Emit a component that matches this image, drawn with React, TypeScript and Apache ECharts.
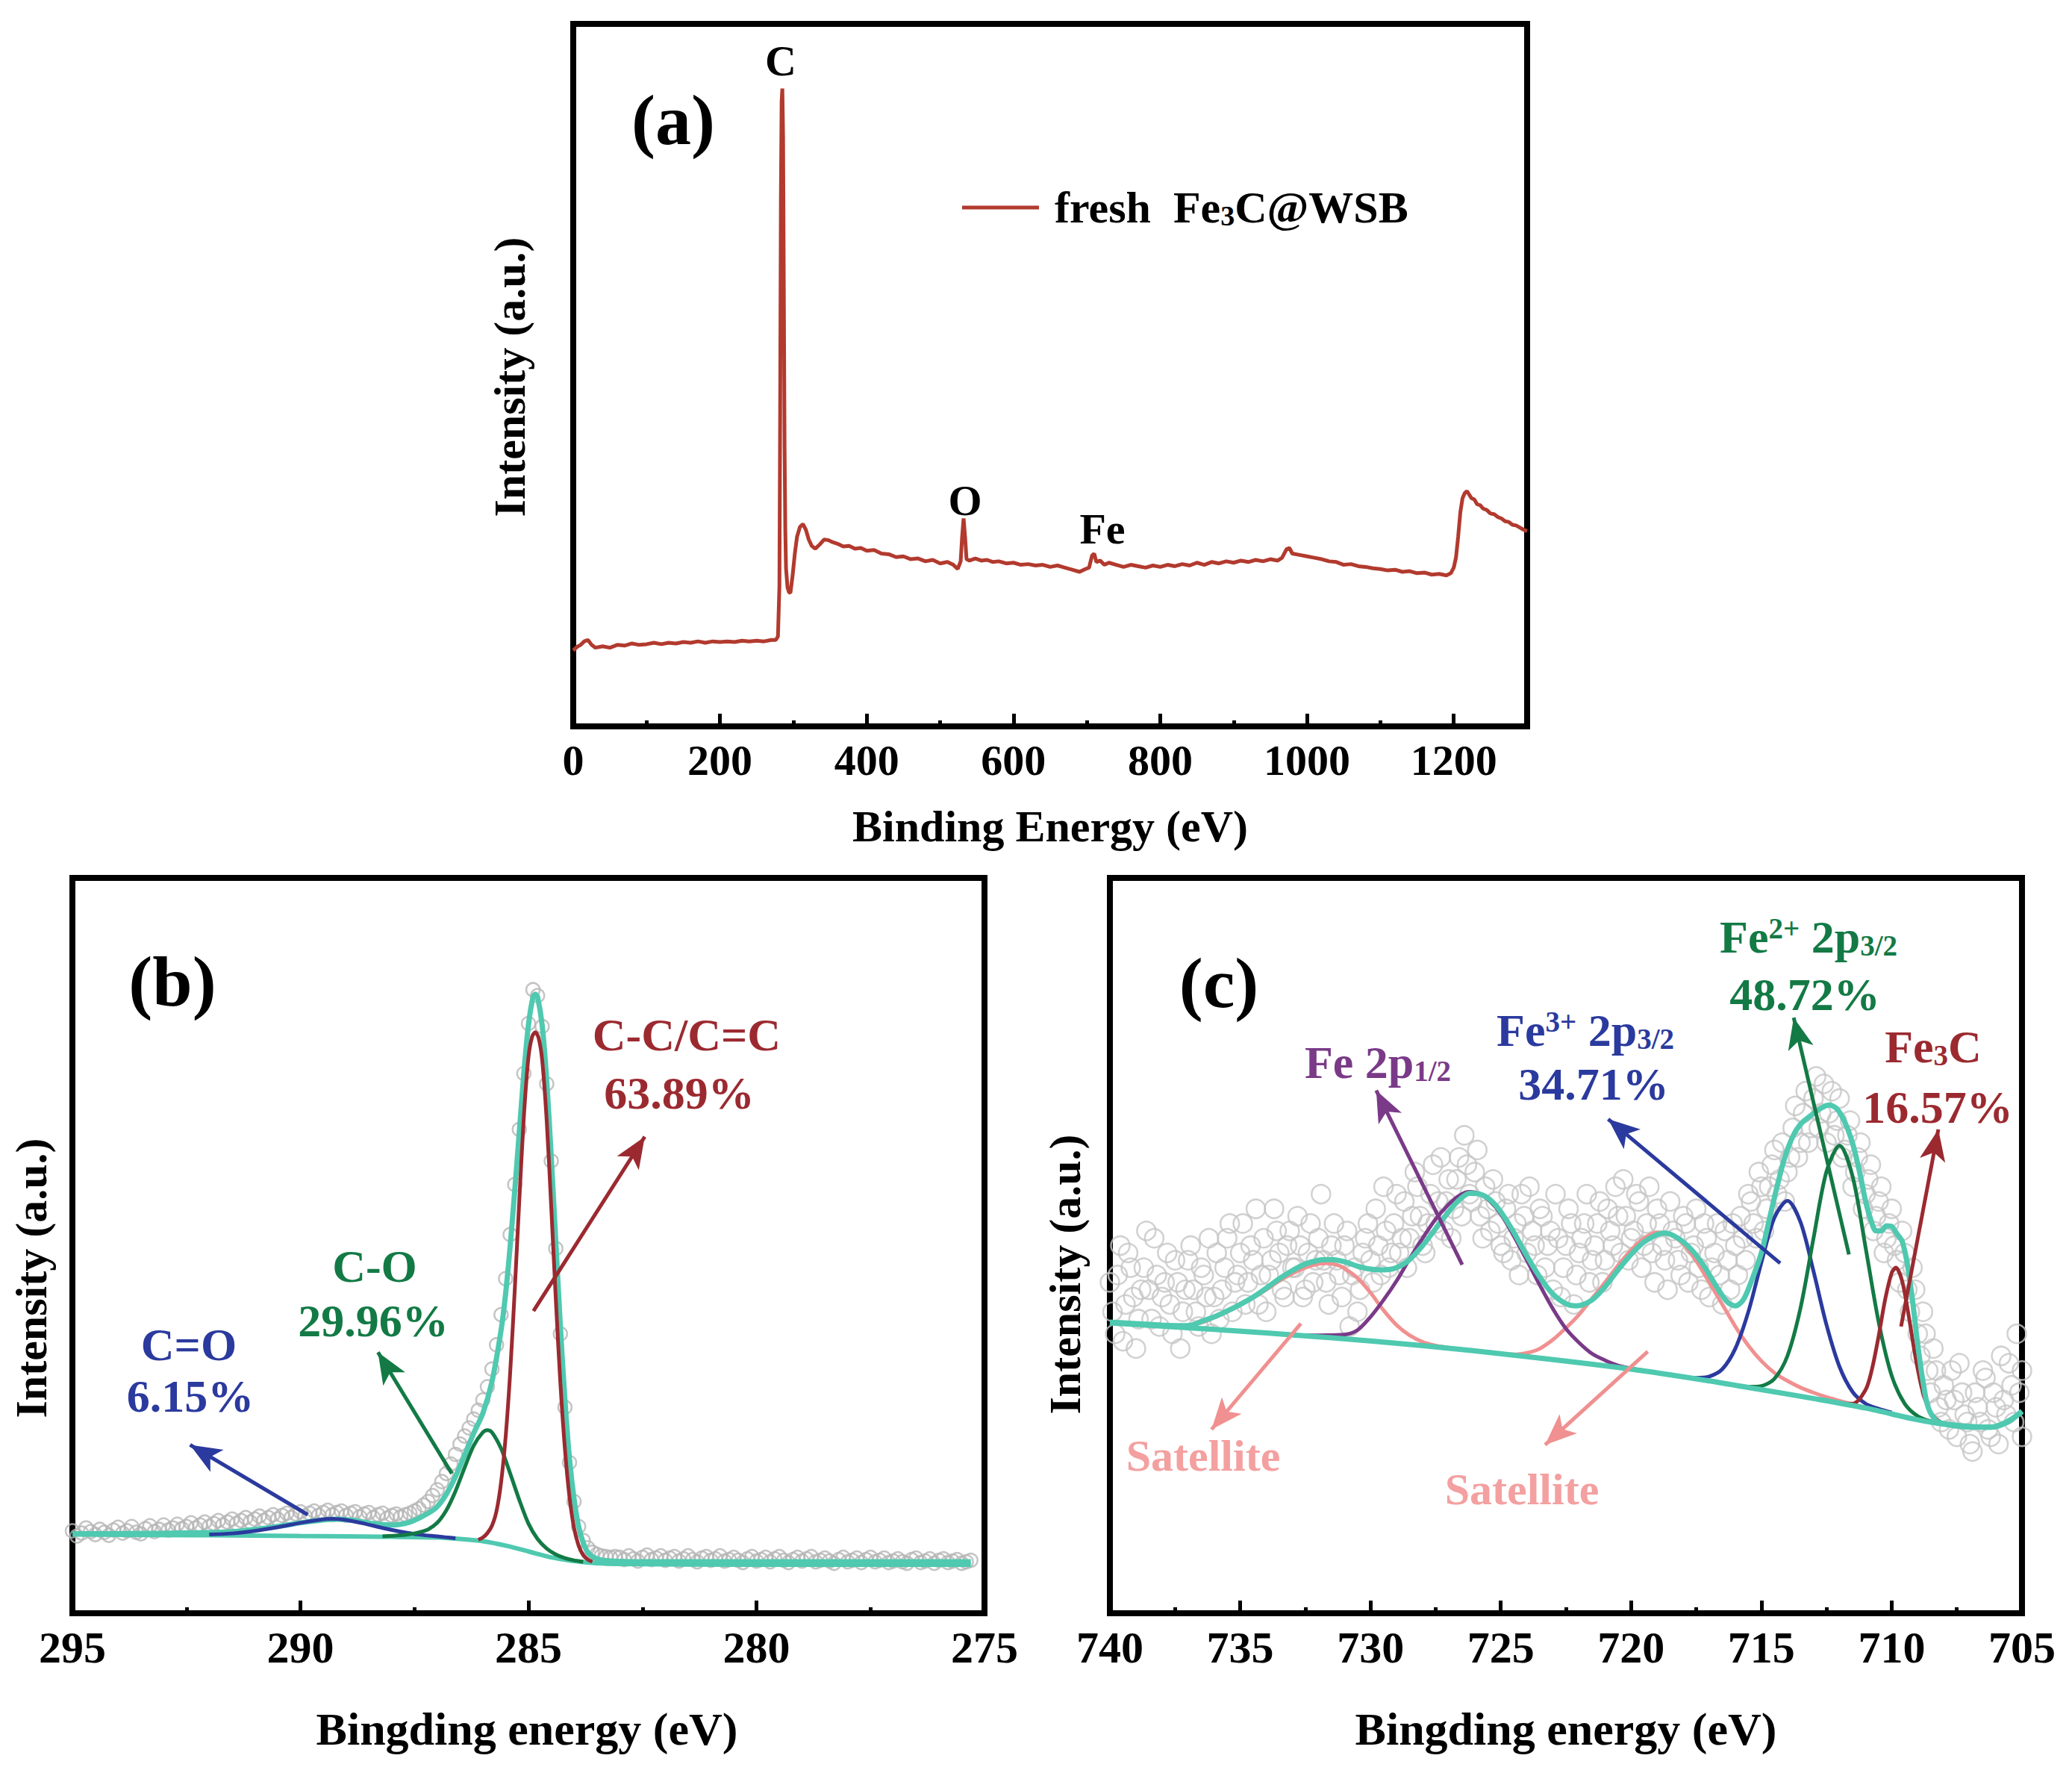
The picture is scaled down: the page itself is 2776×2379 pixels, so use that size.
import React, { useEffect, useRef } from 'react';
import * as echarts from 'echarts';

const FONT = "'Liberation Serif', 'Times New Roman', serif";

// axis ranges (tick labels come from these)
const ticksA = { min: 0, max: 1300, interval: 200 };
const ticksB = { min: 275, max: 295, interval: 5 };
const ticksC = { min: 705, max: 740, interval: 5 };

// (a) survey spectrum, [binding energy (eV), intensity a.u.]
const surveyA: Array<[number, number]> = [
  [0, 10.8], [5, 11.3], [10, 11.6], [15, 12.1], [20, 12.3], [25, 11.6], [30, 11.2], [40, 11.4], [50, 11.2], [60, 11.6],
  [70, 11.5], [80, 11.8], [90, 11.6], [100, 11.7], [110, 11.9], [120, 11.7], [130, 11.9], [140, 11.8], [150, 12.0],
  [160, 11.9], [170, 12.1], [180, 11.9], [190, 12.1], [200, 12.0], [210, 12.1], [220, 12.0], [230, 12.2], [240, 12.1],
  [250, 12.2], [260, 12.1], [270, 12.3], [276, 12.3], [279, 12.8], [281, 20], [282, 45], [283, 75], [284, 89],
  [285, 90.8], [286, 84], [287, 62], [288, 40], [289, 28], [290, 22.5], [292, 19.8], [294, 19.1], [296, 19.0],
  [299, 21.5], [302, 24.6], [305, 27.0], [309, 28.4], [313, 28.8], [317, 28.0], [321, 26.6], [325, 25.7], [330, 25.3],
  [336, 25.9], [342, 26.6], [348, 26.5], [354, 26.2], [360, 26.0], [368, 25.6], [376, 25.7], [384, 25.3], [392, 25.4],
  [400, 25.0], [410, 25.1], [420, 24.6], [430, 24.5], [440, 24.1], [450, 24.2], [460, 23.8], [470, 23.9], [480, 23.5],
  [490, 23.7], [500, 23.2], [510, 23.4], [518, 23.0], [524, 22.4], [528, 23.5], [530, 27], [532, 29.6], [534, 27],
  [536, 23.8], [540, 23.6], [548, 23.9], [556, 23.6], [564, 23.7], [572, 23.4], [580, 23.5], [590, 23.2], [600, 23.3],
  [610, 23.0], [620, 23.1], [630, 22.9], [640, 23.0], [650, 22.7], [660, 22.9], [670, 22.6], [680, 22.3], [690, 22.0],
  [698, 22.4], [703, 22.6], [707, 24.3], [710, 24.6], [713, 23.4], [718, 23.6], [724, 23.0], [730, 23.3], [740, 23.0],
  [750, 22.7], [760, 23.0], [770, 22.8], [780, 22.6], [790, 22.9], [800, 22.7], [810, 23.0], [820, 22.8], [830, 23.1],
  [840, 22.9], [850, 23.3], [860, 23.0], [870, 23.4], [880, 23.2], [890, 23.5], [900, 23.3], [910, 23.6], [920, 23.4],
  [930, 23.7], [940, 23.5], [950, 23.8], [960, 23.6], [966, 24.0], [972, 25.2], [976, 25.4], [980, 24.6], [990, 24.4],
  [1000, 24.2], [1010, 24.0], [1020, 23.8], [1030, 23.5], [1040, 23.4], [1050, 23.0], [1060, 23.1], [1070, 22.8],
  [1080, 22.7], [1090, 22.5], [1100, 22.4], [1110, 22.2], [1120, 22.3], [1130, 22.0], [1140, 22.1], [1150, 21.8],
  [1160, 21.9], [1170, 21.6], [1180, 21.7], [1190, 21.5], [1196, 21.8], [1200, 22.6], [1203, 24], [1206, 27],
  [1209, 30.5], [1212, 32.5], [1215, 33.2], [1218, 33.5], [1221, 33.0], [1224, 32.5], [1228, 32.3], [1232, 31.6],
  [1236, 31.5], [1240, 31.0], [1245, 30.8], [1250, 30.3], [1255, 30.2], [1260, 29.8], [1265, 29.6], [1270, 29.2],
  [1275, 29.1], [1280, 28.7], [1285, 28.6], [1290, 28.3], [1295, 28.0], [1300, 27.8],
];

// (b) C 1s
const c1sData: Array<[number, number]> = [
  [295.0, 11.2], [294.9, 10.5], [294.8, 10.9], [294.7, 11.6], [294.6, 11.1], [294.5, 10.7], [294.4, 11.4], [294.3, 11.0],
  [294.2, 10.6], [294.1, 11.3], [294.0, 11.7], [293.9, 10.9], [293.8, 11.2], [293.7, 11.8], [293.6, 11.0], [293.5, 10.8],
  [293.4, 11.5], [293.3, 11.9], [293.2, 11.1], [293.1, 11.4], [293.0, 12.0], [292.9, 11.3], [292.8, 11.6], [292.7, 12.1],
  [292.6, 11.5], [292.5, 11.8], [292.4, 12.3], [292.3, 11.6], [292.2, 12.0], [292.1, 12.4], [292.0, 11.8], [291.9, 12.2],
  [291.8, 12.6], [291.7, 12.0], [291.6, 12.4], [291.5, 12.8], [291.4, 12.2], [291.3, 12.6], [291.2, 13.0], [291.1, 12.4],
  [291.0, 12.8], [290.9, 13.2], [290.8, 12.6], [290.7, 13.0], [290.6, 13.4], [290.5, 12.8], [290.4, 13.3], [290.3, 13.6],
  [290.2, 13.0], [290.1, 13.5], [290.0, 13.8], [289.9, 13.2], [289.8, 13.6], [289.7, 13.9], [289.6, 13.3], [289.5, 13.7],
  [289.4, 14.0], [289.3, 13.4], [289.2, 13.7], [289.1, 13.9], [289.0, 13.3], [288.9, 13.6], [288.8, 13.8], [288.7, 13.1],
  [288.6, 13.5], [288.5, 13.7], [288.4, 13.0], [288.3, 13.4], [288.2, 13.6], [288.1, 12.9], [288.0, 13.3], [287.9, 13.5],
  [287.8, 13.1], [287.7, 13.4], [287.6, 13.6], [287.5, 13.9], [287.4, 14.2], [287.3, 14.7], [287.2, 15.2], [287.1, 16.0],
  [287.0, 16.8], [286.9, 17.9], [286.8, 19.0], [286.7, 20.3], [286.6, 21.6], [286.5, 23.0], [286.4, 24.1], [286.3, 25.2],
  [286.2, 26.4], [286.1, 27.6], [286.0, 29.0], [285.9, 30.8], [285.8, 33.2], [285.7, 36.5], [285.6, 40.6], [285.5, 45.5],
  [285.4, 51.5], [285.3, 58.3], [285.2, 65.8], [285.1, 73.4], [285.0, 80.2], [284.9, 84.8], [284.8, 84.0], [284.7, 79.8],
  [284.6, 72.0], [284.5, 61.5], [284.4, 49.6], [284.3, 38.0], [284.2, 28.0], [284.1, 20.5], [284.0, 15.2], [283.9, 11.8],
  [283.8, 9.9], [283.7, 8.9], [283.6, 8.3], [283.5, 8.0], [283.4, 7.8], [283.3, 7.7], [283.2, 7.6], [283.1, 7.7],
  [283.0, 7.6], [282.9, 7.3], [282.8, 7.8], [282.7, 7.4], [282.6, 7.1], [282.5, 7.6], [282.4, 7.9], [282.3, 7.3],
  [282.2, 7.5], [282.1, 7.8], [282.0, 7.2], [281.9, 7.5], [281.8, 7.7], [281.7, 7.1], [281.6, 7.4], [281.5, 7.8],
  [281.4, 7.3], [281.3, 7.0], [281.2, 7.5], [281.1, 7.7], [281.0, 7.2], [280.9, 7.4], [280.8, 7.8], [280.7, 7.1],
  [280.6, 7.3], [280.5, 7.6], [280.4, 7.2], [280.3, 6.9], [280.2, 7.4], [280.1, 7.7], [280.0, 7.1], [279.9, 7.3],
  [279.8, 7.6], [279.7, 7.0], [279.6, 7.4], [279.5, 7.7], [279.4, 7.2], [279.3, 6.9], [279.2, 7.3], [279.1, 7.6],
  [279.0, 7.1], [278.9, 7.4], [278.8, 7.7], [278.7, 7.0], [278.6, 7.2], [278.5, 7.5], [278.4, 7.1], [278.3, 6.8],
  [278.2, 7.3], [278.1, 7.6], [278.0, 7.0], [277.9, 7.2], [277.8, 7.5], [277.7, 6.9], [277.6, 7.3], [277.5, 7.6],
  [277.4, 7.0], [277.3, 7.2], [277.2, 7.5], [277.1, 6.9], [277.0, 7.1], [276.9, 7.4], [276.8, 7.0], [276.7, 6.8],
  [276.6, 7.3], [276.5, 7.5], [276.4, 6.9], [276.3, 7.1], [276.2, 7.4], [276.1, 6.8], [276.0, 7.2], [275.9, 7.4],
  [275.8, 6.9], [275.7, 7.1], [275.6, 7.3], [275.5, 6.8], [275.4, 7.0], [275.3, 7.2],
];
const c1sEnvelope: Array<[number, number]> = [
  [295, 10.8], [293, 10.9], [291.5, 11.1], [290.5, 11.8], [290, 12.3], [289.5, 12.7], [289.2, 12.8], [288.8, 12.6],
  [288.4, 12.2], [288.0, 12.0], [287.6, 12.4], [287.2, 13.6], [287.0, 14.5], [286.8, 16.2], [286.6, 18.6], [286.4, 21.5],
  [286.2, 24.5], [286.0, 27.2], [285.8, 31.5], [285.6, 38.5], [285.5, 43.5], [285.4, 50], [285.3, 57.5], [285.2, 65.5],
  [285.1, 73.5], [285.0, 80], [284.9, 83.8], [284.85, 84.2], [284.8, 83.8], [284.7, 80], [284.6, 72.5], [284.5, 62],
  [284.4, 50.5], [284.3, 39], [284.2, 29], [284.1, 21], [284.0, 15.5], [283.9, 11.8], [283.8, 9.6], [283.7, 8.3],
  [283.5, 7.4], [283.2, 7.1], [282.5, 7.0], [280, 7.0], [277, 7.0], [275.3, 7.0],
];
const c1sBackground: Array<[number, number]> = [
  [295, 10.7], [292, 10.6], [290, 10.5], [288, 10.4], [287, 10.3], [286.5, 10.1], [286, 9.8], [285.5, 9.2], [285, 8.4],
  [284.5, 7.6], [284, 7.1], [283.5, 6.8], [283, 6.7], [280, 6.6], [275.3, 6.6],
];
const c1sCC: Array<[number, number]> = [
  [286.1, 10.0], [286.0, 10.3], [285.9, 10.9], [285.8, 11.9], [285.7, 13.9], [285.6, 17.8], [285.5, 24.0], [285.4, 32.8],
  [285.3, 44.0], [285.2, 56.2], [285.1, 67.6], [285.0, 75.6], [284.92, 78.4], [284.85, 79.0], [284.78, 78.3],
  [284.7, 75.3], [284.6, 67.0], [284.5, 55.2], [284.4, 42.7], [284.3, 31.3], [284.2, 22.3], [284.1, 15.8], [284.0, 11.6],
  [283.9, 9.2], [283.8, 7.9], [283.7, 7.3], [283.6, 7.0],
];
const c1sCO: Array<[number, number]> = [
  [288.2, 10.45], [287.8, 10.6], [287.6, 10.75], [287.4, 11.0], [287.2, 11.4], [287.0, 12.3], [286.8, 14.0],
  [286.6, 16.6], [286.4, 19.8], [286.2, 22.8], [286.0, 24.6], [285.9, 24.9], [285.8, 24.6], [285.6, 22.4], [285.4, 19.0],
  [285.2, 15.4], [285.0, 12.2], [284.8, 10.1], [284.6, 8.8], [284.4, 8.0], [284.2, 7.5], [284.0, 7.2], [283.8, 7.0],
];
const c1sCdO: Array<[number, number]> = [
  [292.0, 10.7], [291.5, 10.85], [291.0, 11.2], [290.5, 11.7], [290.0, 12.3], [289.6, 12.7], [289.3, 12.85],
  [289.0, 12.7], [288.6, 12.2], [288.2, 11.6], [287.8, 11.1], [287.4, 10.7], [287.0, 10.45], [286.6, 10.2],
];

// (c) Fe 2p
const fe2pData: Array<[number, number]> = [
  [740.0, 45], [739.8, 38], [739.6, 50], [739.4, 42], [739.2, 47], [739.0, 36], [738.8, 44], [738.6, 52], [738.4, 40],
  [738.2, 46], [738.0, 43], [737.8, 49], [737.6, 38], [737.4, 45], [737.2, 41], [737.0, 48], [736.8, 44], [736.6, 39],
  [736.4, 46], [736.2, 51], [736.0, 43], [735.8, 40], [735.6, 47], [735.4, 53], [735.2, 45], [735.0, 49], [734.8, 42],
  [734.6, 50], [734.4, 55], [734.2, 46], [734.0, 41], [733.8, 48], [733.6, 52], [733.4, 44], [733.2, 50], [733.0, 47],
  [732.8, 54], [732.6, 43], [732.4, 49], [732.2, 45], [732.0, 51], [731.8, 48], [731.6, 42], [731.4, 53], [731.2, 46],
  [731.0, 50], [730.8, 39], [730.6, 47], [730.4, 44], [730.2, 51], [730.0, 48], [729.8, 55], [729.6, 46], [729.4, 52],
  [729.2, 49], [729.0, 57], [728.8, 51], [728.6, 47], [728.4, 54], [728.2, 58], [728.0, 50], [727.8, 53], [727.6, 61],
  [727.4, 56], [727.2, 52], [727.0, 59], [726.8, 55], [726.6, 62], [726.4, 65], [726.2, 57], [726.0, 60], [725.8, 54],
  [725.6, 58], [725.4, 52], [725.2, 56], [725.0, 50], [724.8, 55], [724.6, 48], [724.4, 53], [724.2, 57], [724.0, 49],
  [723.8, 52], [723.6, 46], [723.4, 54], [723.2, 50], [723.0, 44], [722.8, 51], [722.6, 47], [722.4, 55], [722.2, 42],
  [722.0, 49], [721.8, 53], [721.6, 45], [721.4, 50], [721.2, 56], [721.0, 48], [720.8, 52], [720.6, 58], [720.4, 49],
  [720.2, 54], [720.0, 51], [719.8, 57], [719.6, 47], [719.4, 53], [719.2, 49], [719.0, 55], [718.8, 50], [718.6, 44],
  [718.4, 52], [718.2, 48], [718.0, 54], [717.8, 45], [717.6, 50], [717.4, 47], [717.2, 53], [717.0, 43], [716.8, 49],
  [716.6, 46], [716.4, 52], [716.2, 44], [716.0, 50], [715.8, 54], [715.6, 48], [715.4, 56], [715.2, 51], [715.0, 58],
  [714.8, 55], [714.6, 61], [714.4, 57], [714.2, 64], [714.0, 60], [713.8, 66], [713.6, 62], [713.4, 68], [713.2, 64],
  [713.0, 70], [712.8, 66], [712.6, 72], [712.4, 68], [712.2, 65], [712.0, 70], [711.8, 63], [711.6, 67], [711.4, 60],
  [711.2, 64], [711.0, 57], [710.8, 61], [710.6, 54], [710.4, 58], [710.2, 51], [710.0, 55], [709.8, 48], [709.6, 52],
  [709.4, 44], [709.2, 47], [709.0, 38], [708.8, 41], [708.6, 33], [708.4, 36], [708.2, 28], [708.0, 31], [707.8, 25],
  [707.6, 29], [707.4, 34], [707.2, 27], [707.0, 23], [706.8, 30], [706.6, 26], [706.4, 32], [706.2, 24], [706.0, 28],
  [705.8, 35], [705.6, 27], [705.4, 31], [705.2, 38], [705.0, 24], [705.0, 33],
  [739.9, 41], [739.7, 46], [739.5, 37], [739.3, 49], [739.1, 43], [738.9, 40], [738.7, 47], [738.5, 44], [738.3, 51],
  [738.1, 39], [737.9, 45], [737.7, 42], [737.5, 48], [737.3, 36], [737.1, 44], [736.9, 50], [736.7, 41], [736.5, 47],
  [736.3, 43], [736.1, 38], [735.9, 49], [735.7, 44], [735.5, 51], [735.3, 41], [735.1, 46], [734.9, 53], [734.7, 45],
  [734.5, 48], [734.3, 42], [734.1, 51], [733.9, 46], [733.7, 55], [733.5, 49], [733.3, 43], [733.1, 52], [732.9, 47],
  [732.7, 50], [732.5, 44], [732.3, 53], [732.1, 48], [731.9, 57], [731.7, 45], [731.5, 50], [731.3, 48], [731.1, 43],
  [730.9, 52], [730.7, 46], [730.5, 41], [730.3, 49], [730.1, 53], [729.9, 45], [729.7, 50], [729.5, 58], [729.3, 47],
  [729.1, 53], [728.9, 49], [728.7, 56], [728.5, 51], [728.3, 60], [728.1, 54], [727.9, 49], [727.7, 57], [727.5, 53],
  [727.3, 62], [727.1, 56], [726.9, 51], [726.7, 59], [726.5, 54], [726.3, 61], [726.1, 56], [725.9, 63], [725.7, 51],
  [725.5, 55], [725.3, 59], [725.1, 53], [724.9, 49], [724.7, 57], [724.5, 51], [724.3, 46], [724.1, 54], [723.9, 58],
  [723.7, 50], [723.5, 55], [723.3, 47], [723.1, 52], [722.9, 57], [722.7, 43], [722.5, 50], [722.3, 53], [722.1, 46],
  [721.9, 51], [721.7, 57], [721.5, 48], [721.3, 53], [721.1, 45], [720.9, 55], [720.7, 50], [720.5, 54], [720.3, 59],
  [720.1, 48], [719.9, 52], [719.7, 56], [719.5, 50], [719.3, 58], [719.1, 45], [718.9, 53], [718.7, 48], [718.5, 56],
  [718.3, 51], [718.1, 46], [717.9, 53], [717.7, 49], [717.5, 55], [717.3, 44], [717.1, 51], [716.9, 47], [716.7, 53],
  [716.5, 42], [716.3, 48], [716.1, 53], [715.9, 46], [715.7, 51], [715.5, 57], [715.3, 53], [715.1, 60], [714.9, 52],
  [714.7, 58], [714.5, 63], [714.3, 59], [714.1, 56], [713.9, 62], [713.7, 69], [713.5, 64], [713.3, 71], [713.1, 66],
  [712.9, 73], [712.7, 68], [712.5, 64], [712.3, 71], [712.1, 67], [711.9, 62], [711.7, 65], [711.5, 58], [711.3, 62],
  [711.1, 55], [710.9, 59], [710.7, 52], [710.5, 56], [710.3, 49], [710.1, 53], [709.9, 50], [709.7, 45], [709.5, 49],
  [709.3, 41], [709.1, 44], [708.9, 35], [708.7, 38], [708.5, 30], [708.3, 33], [708.1, 26], [707.9, 29], [707.7, 33],
  [707.5, 24], [707.3, 30], [707.1, 26], [706.9, 22], [706.7, 28], [706.5, 33], [706.3, 25], [706.1, 30], [705.9, 23],
  [705.7, 29], [705.5, 34], [705.3, 26], [705.1, 30],
];
const fe2pEnvelope: Array<[number, number]> = [
  [740, 39.6], [738, 39.2], [737, 39.1], [736.4, 39.8], [736, 40.3], [735.5, 41.1], [735, 42.0], [734.5, 43.0],
  [734, 44.2], [733.5, 45.5], [733, 46.6], [732.5, 47.5], [732, 48.0], [731.5, 48.1], [731, 47.8], [730.5, 47.2],
  [730, 46.8], [729.5, 46.7], [729, 47.0], [728.5, 48.1], [728, 50.0], [727.5, 52.3], [727, 54.6], [726.6, 56.2],
  [726.2, 57.1], [725.8, 57.0], [725.4, 56.2], [725, 54.6], [724.5, 51.8], [724, 48.6], [723.5, 45.7], [723, 43.4],
  [722.5, 42.1], [722.1, 41.8], [721.5, 42.6], [721, 44.4], [720.5, 46.7], [720, 48.8], [719.5, 50.5], [719, 51.5],
  [718.7, 51.7], [718.2, 51.0], [717.7, 49.5], [717.2, 47.2], [716.7, 44.3], [716.3, 42.3], [716.0, 41.8],
  [715.7, 42.6], [715.4, 45.0], [715, 49.0], [714.7, 53.5], [714.4, 58.0], [714.1, 62.0], [713.8, 64.8], [713.5, 66.5],
  [713.1, 67.7], [712.7, 68.7], [712.4, 69.1], [712.1, 68.6], [711.8, 66.8], [711.5, 63.9], [711.2, 59.5], [711, 56.0],
  [710.8, 53.5], [710.6, 52.0], [710.4, 52.0], [710.2, 52.7], [710.0, 52.6], [709.8, 51.6], [709.6, 50.6],
  [709.4, 47.5], [709.2, 42.5], [709.0, 36.5], [708.8, 31.5], [708.6, 28.0], [708.3, 26.2], [708.0, 25.8], [707, 25.4],
  [706.2, 25.3], [705.6, 25.9], [705, 27.4],
];
const fe2pBackground: Array<[number, number]> = [
  [740, 39.5], [736, 38.6], [732, 37.6], [728, 36.4], [724, 34.9], [720, 33.2], [717, 31.6], [715, 30.4], [713, 29.2],
  [711, 27.9], [709, 26.3], [708, 25.7], [707, 25.3], [706.2, 25.3], [705.5, 26.2], [705, 27.5],
];
const fe2pSat1: Array<[number, number]> = [
  [737.5, 38.9], [736.5, 39.5], [736, 40.2], [735.5, 41.0], [735, 41.9], [734.5, 42.9], [734, 44.0], [733.5, 45.2],
  [733, 46.2], [732.5, 47.0], [732, 47.5], [731.7, 47.6], [731.3, 47.4], [731, 46.9], [730.5, 45.6], [730, 43.6],
  [729.5, 41.2], [729, 39.2], [728.5, 37.8], [728, 36.9], [727.5, 36.4], [727, 36.1], [726.5, 35.9],
];
const fe2pHalf: Array<[number, number]> = [
  [733, 37.8], [732, 37.8], [731, 37.9], [730.5, 38.5], [730, 40.3], [729.5, 42.6], [729, 45.2], [728.5, 48.2],
  [728, 51.0], [727.5, 53.6], [727, 55.6], [726.6, 56.8], [726.2, 57.3], [725.8, 57.0], [725.4, 56.0], [725, 54.3],
  [724.5, 51.3], [724, 48.0], [723.5, 44.6], [723, 41.4], [722.5, 38.7], [722, 36.8], [721.5, 35.3], [721, 34.4],
  [720.5, 33.7], [720, 33.3], [719.5, 33.0], [719, 32.7],
];
const fe2pSat2: Array<[number, number]> = [
  [725.5, 35.6], [725, 35.3], [724.5, 35.2], [724, 35.4], [723.5, 36.0], [723, 37.2], [722.5, 38.8], [722, 40.6],
  [721.5, 42.8], [721, 45.0], [720.5, 47.3], [720, 49.4], [719.5, 51.0], [719, 51.8], [718.5, 51.5], [718, 50.2],
  [717.5, 47.9], [717, 45.0], [716.5, 42.0], [716, 39.0], [715.5, 36.4], [715, 34.3], [714.5, 32.7], [714, 31.6],
  [713.5, 30.7], [713, 30.0], [712.5, 29.4], [712, 28.9], [711.5, 28.4], [711, 28.0],
];
const fe2pFe3: Array<[number, number]> = [
  [718, 32.1], [717.5, 32.0], [717, 32.2], [716.5, 33.2], [716, 36.0], [715.5, 41.0], [715, 47.7], [714.5, 53.8],
  [714, 56.1], [713.5, 53.2], [713, 46.5], [712.5, 39.2], [712, 33.5], [711.5, 30.1], [711, 28.5], [710.5, 27.8],
  [710, 27.3],
];
const fe2pFe2: Array<[number, number]> = [
  [716, 31.0], [715.5, 30.8], [715, 30.9], [714.5, 31.9], [714, 35.0], [713.5, 41.5], [713, 51.0], [712.5, 60.1],
  [712, 63.6], [711.5, 59.4], [711, 49.7], [710.5, 39.6], [710, 32.3], [709.5, 28.5], [709, 26.8], [708.5, 26.1],
  [708, 25.7],
];
const fe2pFe3C: Array<[number, number]> = [
  [712, 28.5], [711.5, 28.5], [711, 30.4], [710.75, 33.3], [710.5, 37.7], [710.25, 42.7], [710, 46.3], [709.84, 47.0],
  [709.6, 45.2], [709.35, 40.5], [709.1, 35.1], [708.85, 30.7], [708.6, 28.0], [708.35, 26.6], [708, 25.7],
];

const CYAN = '#4fc9b0';
const RED = '#9b2a30';
const GREEN = '#137a45';
const BLUE = '#2b3a9e';
const PURPLE = '#7a3a88';
const PINK = '#f09090';

// annotation arrows, [from, to] in data coordinates
const arrowsB = [
  { from: [284.89, 41.1], to: [282.45, 64.8], color: RED },
  { from: [286.68, 19.0], to: [288.3, 35.5], color: GREEN },
  { from: [289.84, 13.4], to: [292.42, 22.9], color: BLUE },
];
const arrowsC = [
  { from: [726.48, 47.4], to: [729.78, 71.1], color: PURPLE },
  { from: [714.28, 47.6], to: [720.88, 67.2], color: BLUE },
  { from: [711.64, 48.8], to: [713.76, 81.0], color: GREEN },
  { from: [709.64, 39.0], to: [708.21, 65.8], color: RED },
  { from: [732.67, 39.4], to: [736.1, 25.0], color: PINK },
  { from: [719.36, 35.6], to: [723.3, 22.9], color: PINK },
];

const font = (size: number) => `bold ${size}px ${FONT}`;

function label(text: string, x: number, y: number, size: number, color = '#000', rotation = 0) {
  return {
    type: 'text', x, y, rotation, silent: true,
    style: { text, fill: color, font: font(size), align: 'center', verticalAlign: 'middle' },
  };
}

function richLabel(text: string, x: number, y: number, size: number, color: string) {
  const small = Math.round(size * 0.63);
  const base = { fill: color, fontFamily: FONT, fontWeight: 'bold' };
  return {
    type: 'text', x, y, silent: true,
    style: {
      text, align: 'center', verticalAlign: 'middle',
      rich: {
        m: { ...base, fontSize: size, lineHeight: size, verticalAlign: 'middle' },
        b: { ...base, fontSize: small, lineHeight: small, verticalAlign: 'bottom' },
        t: { ...base, fontSize: small, lineHeight: Math.round(size * 0.48), verticalAlign: 'top' },
      },
    },
  };
}

function xAxisOf(grid: number, t: { min: number; max: number; interval: number }, inverse: boolean, size: number) {
  return {
    gridIndex: grid, type: 'value', min: t.min, max: t.max, interval: t.interval, inverse,
    axisLine: { show: false },
    axisTick: { show: true, inside: true, length: 17, lineStyle: { color: '#000', width: 5 } },
    minorTick: { show: true, splitNumber: 2, length: 8, lineStyle: { color: '#000', width: 5 } },
    splitLine: { show: false },
    axisLabel: {
      color: '#000', fontFamily: FONT, fontWeight: 'bold', fontSize: size, margin: 16,
      showMaxLabel: grid !== 0,
      formatter: (v: number) => String(v),
    },
  };
}

function curve(name: string, data: Array<[number, number]>, idx: number, color: string, width: number, z: number, smooth: number | boolean = 0.3) {
  return {
    type: 'line', name, data, xAxisIndex: idx, yAxisIndex: idx, symbol: 'none', showSymbol: false, smooth,
    lineStyle: { color, width }, itemStyle: { color }, z, silent: true,
  };
}

function points(name: string, data: Array<[number, number]>, idx: number, size: number, color: string) {
  return {
    type: 'scatter', name, data, xAxisIndex: idx, yAxisIndex: idx, symbol: 'circle', symbolSize: size,
    itemStyle: { color: 'rgba(255,255,255,0)', borderColor: color, borderWidth: 2.5 }, z: 1, silent: true,
  };
}

function arrowLines(list: Array<{ from: number[]; to: number[]; color: string }>) {
  return {
    silent: true, symbol: ['none', 'arrow'], symbolSize: [26, 42], label: { show: false },
    data: list.map((a) => [
      { coord: a.from, lineStyle: { color: a.color, width: 5, type: 'solid' }, itemStyle: { color: a.color } },
      { coord: a.to },
    ]),
  };
}

export default function App() {
  const ref = useRef<HTMLDivElement | null>(null);

  useEffect(() => {
    document.body.style.margin = '0';
    if (!ref.current) return;
    const chart = echarts.init(ref.current, undefined, { renderer: 'svg' });
    const frame = { show: true, borderColor: '#000', borderWidth: 8, backgroundColor: 'transparent' };

    const bg = curve('background', c1sBackground, 1, CYAN, 6, 2, 0.3) as any;
    bg.markLine = arrowLines(arrowsB);
    const bgC = curve('background', fe2pBackground, 2, CYAN, 7, 3, 0.3) as any;
    bgC.markLine = arrowLines(arrowsC);

    chart.setOption({
      animation: false,
      backgroundColor: '#fff',
      grid: [
        { left: 768, top: 32, width: 1278, height: 941, ...frame },
        { left: 97, top: 1176, width: 1222, height: 985, ...frame },
        { left: 1487, top: 1176, width: 1222, height: 985, ...frame },
      ],
      xAxis: [xAxisOf(0, ticksA, false, 58), xAxisOf(1, ticksB, true, 60), xAxisOf(2, ticksC, true, 60)],
      yAxis: [0, 1, 2].map((g) => ({ gridIndex: g, type: 'value', min: 0, max: 100, show: false })),
      legend: {
        data: [{ name: 'fresh Fe3C@WSB', icon: 'rect' }], left: 1289, top: 248, padding: 0, itemWidth: 103, itemHeight: 5,
        selectedMode: false,
        formatter: () => '{g|}{t|fresh\u2002Fe}{s|3}{t|C@WSB}',
        textStyle: {
          rich: {
            g: { width: 16 },
            t: { fontFamily: FONT, fontWeight: 'bold', fontSize: 60, lineHeight: 60, color: '#000', verticalAlign: 'middle' },
            s: { fontFamily: FONT, fontWeight: 'bold', fontSize: 38, lineHeight: 38, color: '#000', verticalAlign: 'bottom' },
          },
        },
      },
      series: [
        curve('fresh Fe3C@WSB', surveyA, 0, '#b23a2e', 5, 2, false),
        points('C 1s data', c1sData, 1, 18, '#b5b5b5'),
        bg,
        curve('envelope', c1sEnvelope, 1, CYAN, 7, 2),
        curve('C=O', c1sCdO, 1, BLUE, 5, 3),
        curve('C-O', c1sCO, 1, GREEN, 5, 3),
        curve('C-C/C=C', c1sCC, 1, RED, 5, 3),
        points('Fe 2p data', fe2pData, 2, 25, '#c6c6c6'),
        bgC,
        curve('Satellite 1', fe2pSat1, 2, PINK, 5, 2),
        curve('Satellite 2', fe2pSat2, 2, PINK, 5, 2),
        curve('Fe 2p1/2', fe2pHalf, 2, PURPLE, 5, 2),
        curve('Fe3+ 2p3/2', fe2pFe3, 2, BLUE, 5, 2),
        curve('Fe2+ 2p3/2', fe2pFe2, 2, GREEN, 5, 2),
        curve('Fe3C', fe2pFe3C, 2, RED, 5, 2),
        curve('envelope', fe2pEnvelope, 2, CYAN, 7, 3),
      ],
      graphic: [
        label('(a)', 902, 160, 96),
        label('(b)', 231, 1314, 96),
        label('(c)', 1633, 1316, 96),
        label('C', 1046, 81, 58),
        label('O', 1293, 670, 58),
        label('Fe', 1477, 708, 58),
        label('Binding Energy (eV)', 1407, 1107, 60),
        label('Intensity (a.u.)', 683, 505, 60, '#000', Math.PI / 2),
        label('C-C/C=C', 920, 1386, 62, RED),
        label('63.89%', 910, 1464, 62, RED),
        label('C-O', 502, 1696, 62, GREEN),
        label('29.96%', 500, 1769, 62, GREEN),
        label('C=O', 253, 1801, 62, BLUE),
        label('6.15%', 255, 1870, 62, BLUE),
        label('Bingding energy (eV)', 706, 2316, 62),
        label('Intensity (a.u.)', 42, 1712, 60, '#000', Math.PI / 2),
        richLabel('{m|Fe 2p}{b|1/2}', 1846, 1423, 62, PURPLE),
        richLabel('{m|Fe}{t|3+}{m| 2p}{b|3/2}', 2124, 1380, 62, BLUE),
        label('34.71%', 2135, 1452, 62, BLUE),
        richLabel('{m|Fe}{t|2+}{m| 2p}{b|3/2}', 2423, 1255, 62, GREEN),
        label('48.72%', 2418, 1332, 62, GREEN),
        richLabel('{m|Fe}{b|3}{m|C}', 2590, 1402, 62, RED),
        label('16.57%', 2596, 1483, 62, RED),
        label('Satellite', 1612, 1950, 60, '#f4a0a0'),
        label('Satellite', 2039, 1995, 60, '#f4a0a0'),
        label('Bingding energy (eV)', 2098, 2316, 62),
        label('Intensity (a.u.)', 1427, 1707, 60, '#000', Math.PI / 2),
      ],
    });
    return () => chart.dispose();
  }, []);

  return <div ref={ref} style={{ width: 2776, height: 2379, background: '#fff' }} />;
}
